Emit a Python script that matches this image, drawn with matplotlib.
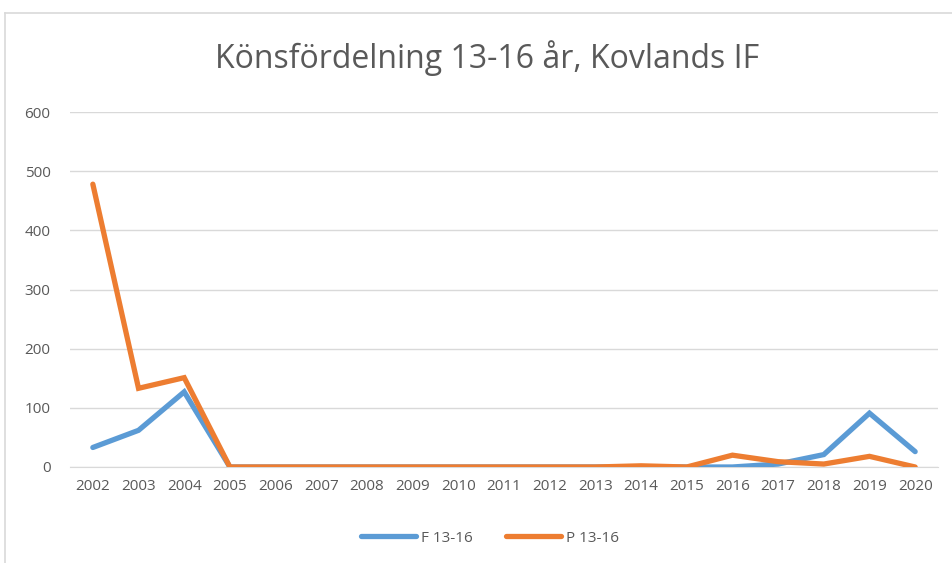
import matplotlib
matplotlib.use('Agg')
import matplotlib.pyplot as plt
from matplotlib.lines import Line2D

years = [str(y) for y in range(2002, 2021)]
f_values = [33, 62, 127, 0, 0, 0, 0, 0, 0, 0, 0, 0, 0, 0, 0, 5, 21, 91, 26]
p_values = [478, 133, 151, 0, 0, 0, 0, 0, 0, 0, 0, 0, 2, 0, 20, 9, 5, 18, 0]
y_ticks = [0, 100, 200, 300, 400, 500, 600]

plt.rcParams['font.family'] = ['Open Sans', 'DejaVu Sans']

fig = plt.figure(figsize=(9.52, 5.63), dpi=100)
ax = fig.add_axes([70 / 952, 1 - 467 / 563, 868 / 952, 355 / 563])

x = range(len(years))
ax.plot(x, f_values, color='#5B9BD5', lw=3.8, solid_capstyle='round', solid_joinstyle='miter', label='F 13-16', zorder=3)
ax.plot(x, p_values, color='#ED7D31', lw=3.8, solid_capstyle='round', solid_joinstyle='miter', label='P 13-16', zorder=4)

ax.set_xlim(-0.5, len(years) - 0.5)
ax.set_ylim(0, 600)
ax.set_yticks(y_ticks)
ax.set_xticks(list(x))
ax.set_xticklabels(years)
ax.yaxis.grid(True, color='#D9D9D9', lw=1)
ax.set_axisbelow(True)
for s in ['top', 'right', 'left']:
    ax.spines[s].set_visible(False)
ax.spines['bottom'].set_color('#D9D9D9')
ax.tick_params(length=0, labelsize=11, colors='#595959', pad=9)
ax.tick_params(axis='y', pad=14)

fig.text(487 / 952, 1 - 58 / 563, 'Könsfördelning 13-16 år, Kovlands IF',
         ha='center', va='center', fontsize=23, color='#595959')

fig.legend(loc='center', bbox_to_anchor=(490 / 952, 1 - 538 / 563), ncol=2,
           frameon=False, fontsize=11, labelcolor='#595959', handlelength=3.6,
           columnspacing=2.2, handletextpad=0.3)

# chart frame (partly cropped)
fig.add_artist(Line2D([5 / 952, 1], [1 - 13 / 563] * 2, color='#D9D9D9', lw=1.2))
fig.add_artist(Line2D([5 / 952] * 2, [0, 1 - 13 / 563], color='#D9D9D9', lw=1.2))

fig.savefig('out.png', dpi=100, facecolor='white')
